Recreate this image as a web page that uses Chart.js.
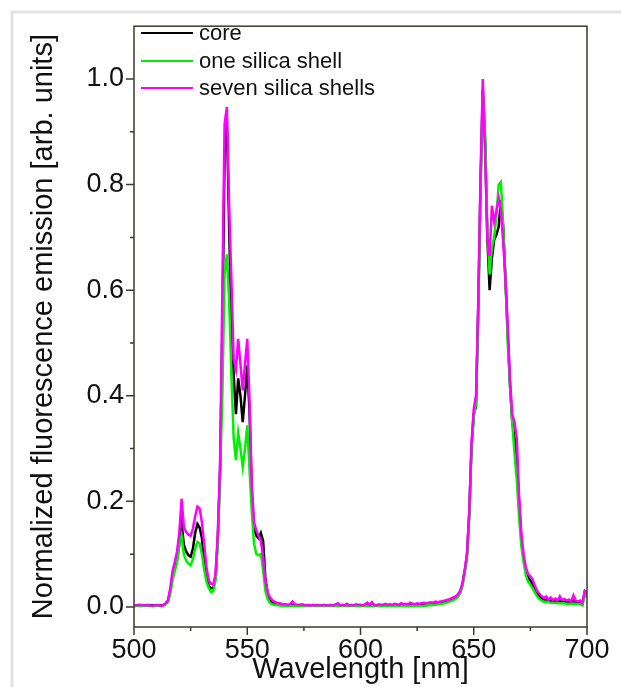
<!DOCTYPE html>
<html lang="en">
<head>
<meta charset="UTF-8">
<title>Normalized fluorescence emission</title>
<script src="https://cdn.jsdelivr.net/npm/chart.js"></script>
<style>
  html, body { margin: 0; padding: 0; background: #fff; }
  #wrap { width: 621px; height: 687px; position: relative; }
</style>
</head>
<body>
<div id="wrap"><canvas id="spectrumChart" width="621" height="687"></canvas></div>
<script>
// wavelength in nm, one sample per nm
const wavelength = [
  500, 501, 502, 503, 504, 505, 506, 507, 508, 509,
  510, 511, 512, 513, 514, 515, 516, 517, 518, 519,
  520, 521, 522, 523, 524, 525, 526, 527, 528, 529,
  530, 531, 532, 533, 534, 535, 536, 537, 538, 539,
  540, 541, 542, 543, 544, 545, 546, 547, 548, 549,
  550, 551, 552, 553, 554, 555, 556, 557, 558, 559,
  560, 561, 562, 563, 564, 565, 566, 567, 568, 569,
  570, 571, 572, 573, 574, 575, 576, 577, 578, 579,
  580, 581, 582, 583, 584, 585, 586, 587, 588, 589,
  590, 591, 592, 593, 594, 595, 596, 597, 598, 599,
  600, 601, 602, 603, 604, 605, 606, 607, 608, 609,
  610, 611, 612, 613, 614, 615, 616, 617, 618, 619,
  620, 621, 622, 623, 624, 625, 626, 627, 628, 629,
  630, 631, 632, 633, 634, 635, 636, 637, 638, 639,
  640, 641, 642, 643, 644, 645, 646, 647, 648, 649,
  650, 651, 652, 653, 654, 655, 656, 657, 658, 659,
  660, 661, 662, 663, 664, 665, 666, 667, 668, 669,
  670, 671, 672, 673, 674, 675, 676, 677, 678, 679,
  680, 681, 682, 683, 684, 685, 686, 687, 688, 689,
  690, 691, 692, 693, 694, 695, 696, 697, 698, 699,
  700
];

const core = [
  0.003, 0.003, 0.003, 0.003, 0.003, 0.003, 0.003, 0.003, 0.003, 0.003,
  0.003, 0.003, 0.003, 0.003, 0.006, 0.011, 0.030, 0.058, 0.072, 0.090,
  0.120, 0.160, 0.118, 0.105, 0.098, 0.095, 0.110, 0.140, 0.157, 0.150,
  0.130, 0.085, 0.055, 0.040, 0.035, 0.036, 0.055, 0.130, 0.260, 0.520,
  0.860, 0.920, 0.720, 0.530, 0.440, 0.365, 0.433, 0.400, 0.350, 0.400,
  0.457, 0.370, 0.220, 0.150, 0.135, 0.130, 0.140, 0.125, 0.055, 0.025,
  0.013, 0.008, 0.006, 0.005, 0.004, 0.004, 0.003, 0.003, 0.003, 0.003,
  0.003, 0.003, 0.003, 0.003, 0.003, 0.003, 0.003, 0.003, 0.003, 0.003,
  0.003, 0.003, 0.003, 0.003, 0.003, 0.003, 0.003, 0.003, 0.003, 0.003,
  0.003, 0.003, 0.003, 0.003, 0.003, 0.003, 0.003, 0.003, 0.003, 0.003,
  0.003, 0.003, 0.003, 0.003, 0.003, 0.003, 0.003, 0.003, 0.003, 0.003,
  0.003, 0.003, 0.003, 0.003, 0.003, 0.003, 0.003, 0.003, 0.003, 0.003,
  0.003, 0.003, 0.003, 0.003, 0.003, 0.003, 0.003, 0.003, 0.003, 0.003,
  0.004, 0.004, 0.005, 0.005, 0.006, 0.007, 0.008, 0.009, 0.010, 0.012,
  0.013, 0.015, 0.017, 0.021, 0.028, 0.042, 0.067, 0.097, 0.175, 0.300,
  0.365, 0.380, 0.570, 0.800, 0.980, 0.880, 0.700, 0.600, 0.660, 0.695,
  0.705, 0.720, 0.770, 0.720, 0.620, 0.520, 0.420, 0.350, 0.320, 0.280,
  0.200, 0.130, 0.090, 0.068, 0.055, 0.050, 0.043, 0.033, 0.025, 0.020,
  0.016, 0.013, 0.014, 0.011, 0.012, 0.010, 0.011, 0.009, 0.012, 0.009,
  0.010, 0.009, 0.009, 0.008, 0.012, 0.008, 0.008, 0.008, 0.006, 0.028,
  0.020
];

const oneShell = [
  0.002, 0.002, 0.003, 0.002, 0.002, 0.003, 0.002, 0.002, 0.002, 0.002,
  0.003, 0.002, 0.002, 0.003, 0.005, 0.009, 0.025, 0.050, 0.068, 0.085,
  0.115, 0.135, 0.100, 0.088, 0.082, 0.079, 0.090, 0.110, 0.123, 0.120,
  0.100, 0.070, 0.048, 0.036, 0.028, 0.030, 0.050, 0.120, 0.250, 0.400,
  0.630, 0.668, 0.580, 0.440, 0.320, 0.278, 0.330, 0.300, 0.265, 0.300,
  0.344, 0.260, 0.180, 0.120, 0.100, 0.098, 0.100, 0.070, 0.030, 0.015,
  0.008, 0.005, 0.004, 0.003, 0.003, 0.002, 0.002, 0.002, 0.002, 0.002,
  0.002, 0.002, 0.002, 0.002, 0.002, 0.002, 0.002, 0.002, 0.002, 0.002,
  0.002, 0.002, 0.002, 0.002, 0.002, 0.002, 0.002, 0.002, 0.002, 0.002,
  0.002, 0.002, 0.002, 0.002, 0.002, 0.002, 0.002, 0.002, 0.002, 0.002,
  0.002, 0.002, 0.002, 0.002, 0.002, 0.002, 0.002, 0.002, 0.002, 0.002,
  0.002, 0.002, 0.002, 0.002, 0.002, 0.002, 0.002, 0.002, 0.002, 0.002,
  0.002, 0.002, 0.002, 0.002, 0.002, 0.002, 0.002, 0.002, 0.002, 0.003,
  0.003, 0.003, 0.004, 0.004, 0.005, 0.005, 0.006, 0.007, 0.008, 0.010,
  0.011, 0.013, 0.015, 0.019, 0.026, 0.040, 0.065, 0.095, 0.170, 0.300,
  0.360, 0.385, 0.560, 0.790, 0.970, 0.900, 0.720, 0.630, 0.680, 0.700,
  0.740, 0.800, 0.805, 0.720, 0.620, 0.500, 0.420, 0.350, 0.290, 0.240,
  0.170, 0.115, 0.085, 0.060, 0.048, 0.042, 0.035, 0.027, 0.020, 0.015,
  0.012, 0.010, 0.010, 0.009, 0.008, 0.008, 0.008, 0.007, 0.007, 0.007,
  0.007, 0.006, 0.006, 0.006, 0.006, 0.006, 0.005, 0.005, 0.003, 0.025,
  0.018
];

const sevenShells = [
  0.003, 0.003, 0.004, 0.004, 0.003, 0.003, 0.004, 0.003, 0.002, 0.003,
  0.004, 0.003, 0.002, 0.004, 0.007, 0.013, 0.035, 0.068, 0.085, 0.105,
  0.140, 0.205, 0.152, 0.142, 0.137, 0.135, 0.148, 0.172, 0.190, 0.186,
  0.160, 0.118, 0.075, 0.050, 0.044, 0.043, 0.062, 0.140, 0.270, 0.600,
  0.915, 0.947, 0.760, 0.620, 0.470, 0.450, 0.508, 0.460, 0.410, 0.460,
  0.508, 0.390, 0.230, 0.160, 0.145, 0.135, 0.125, 0.095, 0.050, 0.028,
  0.018, 0.013, 0.010, 0.008, 0.007, 0.006, 0.005, 0.005, 0.004, 0.006,
  0.010, 0.005, 0.004, 0.004, 0.005, 0.004, 0.003, 0.004, 0.003, 0.004,
  0.003, 0.004, 0.003, 0.003, 0.004, 0.003, 0.003, 0.004, 0.003, 0.005,
  0.007, 0.003, 0.004, 0.003, 0.006, 0.003, 0.004, 0.003, 0.005, 0.004,
  0.004, 0.003, 0.005, 0.008, 0.004, 0.009, 0.004, 0.003, 0.005, 0.004,
  0.004, 0.006, 0.004, 0.005, 0.004, 0.006, 0.005, 0.004, 0.007, 0.005,
  0.006, 0.005, 0.008, 0.006, 0.005, 0.007, 0.006, 0.007, 0.008, 0.007,
  0.008, 0.009, 0.008, 0.010, 0.009, 0.010, 0.011, 0.012, 0.013, 0.014,
  0.016, 0.018, 0.020, 0.024, 0.030, 0.045, 0.070, 0.100, 0.180, 0.310,
  0.375, 0.400, 0.580, 0.820, 1.000, 0.860, 0.700, 0.665, 0.760, 0.730,
  0.750, 0.775, 0.750, 0.690, 0.620, 0.530, 0.430, 0.365, 0.350, 0.320,
  0.210, 0.140, 0.100, 0.075, 0.062, 0.058, 0.052, 0.040, 0.030, 0.025,
  0.020, 0.017, 0.020, 0.014, 0.018, 0.013, 0.016, 0.012, 0.020, 0.013,
  0.015, 0.012, 0.014, 0.010, 0.022, 0.012, 0.010, 0.012, 0.008, 0.030,
  0.028
];

const seriesLabels = ["core", "one silica shell", "seven silica shells"];
const seriesColors = ["#000000", "#00f000", "#ff00ff"];

const xTicks = [500, 550, 600, 650, 700];
const xMinorTicks = [525, 575, 625, 675];
const yTicks = [0.0, 0.2, 0.4, 0.6, 0.8, 1.0];
const yMinorTicks = [0.1, 0.3, 0.5, 0.7, 0.9];

function toPoints(values) {
    return values.map((v, i) => ({ x: wavelength[i], y: v }));
}

const FONT = "'Liberation Sans', Arial, sans-serif";

// frame, tick marks, legend and the light card border
const framePlugin = {
    id: "framePlugin",
    beforeDraw(chart) {
        const c = chart.ctx;
        c.save();
        c.strokeStyle = "#e2e2e2";
        c.lineWidth = 3;
        c.beginPath();
        c.moveTo(12, 687);
        c.lineTo(12, 12);
        c.lineTo(621, 12);
        c.stroke();
        c.restore();
    },
    afterDraw(chart) {
        const c = chart.ctx;
        const a = chart.chartArea;
        const xs = chart.scales.x, ys = chart.scales.y;
        c.save();
        c.strokeStyle = "#3a3a32";
        c.lineWidth = 1.5;
        c.strokeRect(a.left, a.top, a.right - a.left, a.bottom - a.top);

        c.beginPath();
        xTicks.forEach(v => { const px = xs.getPixelForValue(v); c.moveTo(px, a.bottom); c.lineTo(px, a.bottom + 8); });
        xMinorTicks.forEach(v => { const px = xs.getPixelForValue(v); c.moveTo(px, a.bottom); c.lineTo(px, a.bottom + 4); });
        yTicks.forEach(v => { const py = ys.getPixelForValue(v); c.moveTo(a.left, py); c.lineTo(a.left - 8, py); });
        yMinorTicks.forEach(v => { const py = ys.getPixelForValue(v); c.moveTo(a.left, py); c.lineTo(a.left - 4, py); });
        c.stroke();

        // legend
        c.font = "22px " + FONT;
        c.textBaseline = "middle";
        c.fillStyle = "#111";
        const rowY = [33, 61, 88];
        seriesLabels.forEach((lab, i) => {
            c.strokeStyle = seriesColors[i];
            c.lineWidth = 2;
            c.beginPath();
            c.moveTo(a.left + 7, rowY[i]);
            c.lineTo(a.left + 59, rowY[i]);
            c.stroke();
            c.fillText(lab, a.left + 65, rowY[i] + 1);
        });
        c.restore();
    }
};

const ctx = document.getElementById("spectrumChart").getContext("2d");
const spectrumChart = new Chart(ctx, {
    type: "line",
    data: {
        datasets: [
            { label: seriesLabels[0], data: toPoints(core), borderColor: seriesColors[0], order: 2 },
            { label: seriesLabels[1], data: toPoints(oneShell), borderColor: seriesColors[1], order: 1 },
            { label: seriesLabels[2], data: toPoints(sevenShells), borderColor: seriesColors[2], order: 0 }
        ]
    },
    options: {
        responsive: false,
        animation: false,
        events: [],
        layout: { padding: { top: 22, right: 34, left: 0, bottom: 0 } },
        elements: {
            line: { borderWidth: 2.5, tension: 0, fill: false },
            point: { radius: 0 }
        },
        plugins: { legend: { display: false }, tooltip: { enabled: false } },
        scales: {
            x: {
                type: "linear",
                min: 500,
                max: 700,
                afterBuildTicks: s => { s.ticks = xTicks.map(v => ({ value: v })); },
                afterFit: s => { s.height = 60; },
                grid: { display: false, drawTicks: false },
                border: { display: false },
                ticks: {
                    padding: 7,
                    color: "#111",
                    font: { family: FONT, size: 27 },
                    callback: v => String(v)
                },
                title: {
                    display: true,
                    text: "Wavelength [nm]",
                    color: "#111",
                    padding: { top: 0, bottom: 0 },
                    font: { family: FONT, size: 29 }
                }
            },
            y: {
                min: -0.038,
                max: 1.1,
                afterBuildTicks: s => { s.ticks = yTicks.map(v => ({ value: v })); },
                afterFit: s => { s.width = 134; },
                grid: { display: false, drawTicks: false },
                border: { display: false },
                ticks: {
                    padding: 10,
                    color: "#111",
                    font: { family: FONT, size: 27 },
                    callback: v => Number(v).toFixed(1)
                },
                title: {
                    display: true,
                    text: "Normalized fluorescence emission [arb. units]",
                    color: "#111",
                    padding: { top: 27, bottom: 0 },
                    font: { family: FONT, size: 29 }
                }
            }
        }
    },
    plugins: [framePlugin]
});
</script>
</body>
</html>
